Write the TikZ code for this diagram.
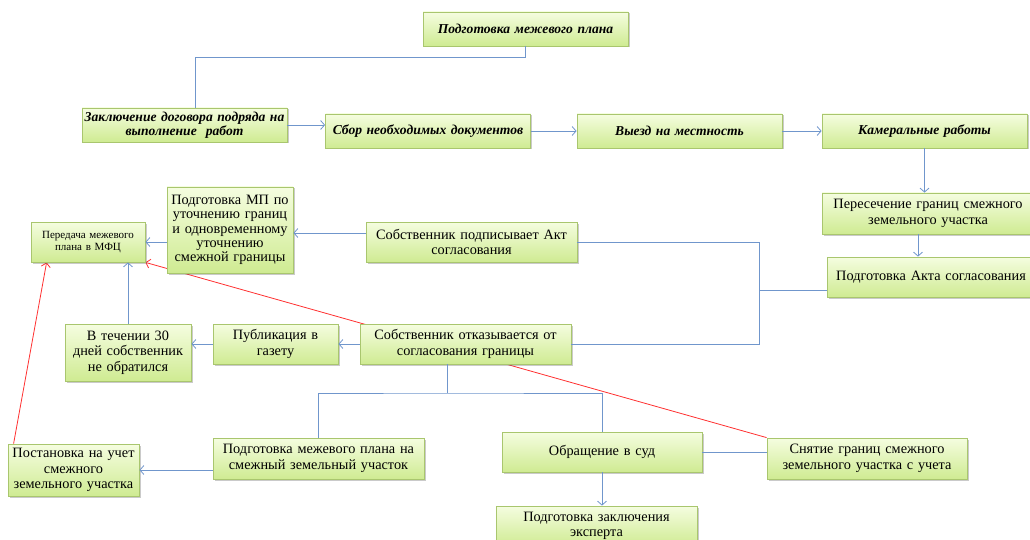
\documentclass[tikz,border=0pt]{standalone}
\usepackage{fontspec}
\setmainfont{Liberation Serif}
\usetikzlibrary{arrows.meta,shadows,backgrounds}
\definecolor{boxtop}{HTML}{F5FDE0}
\definecolor{boxbottom}{HTML}{CFEB92}
\definecolor{boxline}{HTML}{A9C66E}
\definecolor{linkblue}{HTML}{7096CC}
\definecolor{linkred}{HTML}{FF3030}

\begin{document}
\begin{tikzpicture}[x=1pt, y=-1pt, >={Straight Barb[length=4pt,width=9pt]}, box_node/.style={draw=boxline, line width=0.8pt, top color=boxtop, bottom color=boxbottom, drop shadow={shadow xshift=1.5pt,shadow yshift=-1.5pt,opacity=0.35,fill=black!60}, align=center, inner xsep=3pt, inner ysep=1pt, font=\fontsize{14.3}{15.5}\selectfont}, main_node/.style={box_node, font=\fontsize{13.6}{14.5}\selectfont\bfseries\itshape, inner xsep=0pt, text width=205pt, minimum height=34pt}, conn_line/.style={linkblue, line width=0.8pt}, red_line/.style={linkred, line width=0.8pt}]
				\useasboundingbox (0,0) rectangle (1030,540);
				\clip (0,0) rectangle (1030,540);
				\node[main_node] (plan) at (525.5,29) {Подготовка межевого плана};
				\node[main_node] (contract) at (184.5,125) {Заключение договора подряда на\\ выполнение\ \ работ};
				\node[main_node] (docs) at (428,131) {Сбор необходимых документов};
				\node[main_node] (field) at (679.5,131) {Выезд на местность};
				\node[main_node] (office) at (924.5,131) {Камеральные работы};
				\node[box_node, text width=206pt, minimum height=41pt] (cross) at (928,213.5) {Пересечение границ смежного\\ земельного участка};
				\node[box_node, text width=202pt, minimum height=40pt] (act) at (931,277) {Подготовка Акта согласования};
				\node[box_node, text width=205pt, minimum height=40pt] (signs) at (471.5,242) {Собственник подписывает Акт\\ согласования};
				\node[box_node, text width=205pt, minimum height=40pt] (refuses) at (465.5,344) {Собственник отказывается от\\ согласования границы};
				\node[box_node, text width=120pt, minimum height=86pt, font=\fontsize{14.3}{14.3}\selectfont] (mp) at (230,230) {Подготовка МП по\\ уточнению границ\\ и одновременному\\ уточнению\\ смежной границы};
				\node[box_node, text width=108pt, minimum height=40pt, font=\fontsize{11}{11.5}\selectfont] (mfc) at (88,242) {Передача межевого\\ плана в МФЦ};
				\node[box_node, text width=119pt, minimum height=40pt] (publ) at (275.5,344) {Публикация в\\ газету};
				\node[box_node, text width=120pt, minimum height=57pt] (days) at (128,352.5) {В течении 30\\ дней собственник\\ не обратился};
				\node[box_node, text width=125pt, minimum height=52pt] (register) at (73.5,470) {Постановка на учет\\ смежного\\ земельного участка};
				\node[box_node, text width=205pt, minimum height=41pt] (adjplan) at (318.5,458.5) {Подготовка межевого плана на\\ смежный земельный участок};
				\node[box_node, text width=194pt, minimum height=40pt] (court) at (602,452) {Обращение в суд};
				\node[box_node, text width=194pt, minimum height=41pt] (remove) at (867,458.5) {Снятие границ смежного\\ земельного участка с учета};
				\node[box_node, text width=195pt, minimum height=40pt] (expert) at (596.5,526) {Подготовка заключения\\ эксперта};
				\coordinate (act_split) at (759,290);
				\coordinate (refuse_split) at (447,393);
				\begin{scope}[on background layer]
				\draw[red_line, ->] (remove.north west) -- (mfc.south east);
				\draw[red_line, ->] ([xshift=6pt]register.north west) -- ([xshift=16pt]mfc.south west);
				\end{scope}
				\draw[conn_line] (plan.south) -- ++(0,11) -| ([xshift=10.5pt]contract.north);
				\draw[conn_line, ->] (contract.east) -- (contract.east -| docs.west);
				\draw[conn_line, ->] (docs.east) -- (field.west);
				\draw[conn_line, ->] (field.east) -- (office.west);
				\draw[conn_line, ->] (office.south) -- (office.south |- cross.north);
				\draw[conn_line, ->] ([xshift=-10pt]cross.south) -- ([xshift=-10pt]cross.south |- act.north);
				\draw[conn_line] (signs.east) -| (act_split) |- (refuses.east);
				\draw[conn_line] (act_split) -- (act_split -| act.west);
				\draw[conn_line, ->] ([yshift=9pt]signs.west) -- ([yshift=9pt]signs.west -| mp.east);
				\draw[conn_line, ->] (mp.west |- mfc.east) -- (mfc.east);
				\draw[conn_line, ->] (refuses.west) -- (publ.east);
				\draw[conn_line, ->] (publ.west) -- (publ.west -| days.east);
				\draw[conn_line, ->] (days.north) -- (days.north |- mfc.south);
				\draw[conn_line] ([xshift=-18.5pt]refuses.south) -- (refuse_split);
				\draw[conn_line] (adjplan.north) |- (refuse_split) -| (court.north);
				\draw[conn_line, ->] (adjplan.west |- register.east) -- (register.east);
				\draw[conn_line] (court.east) -- (court.east -| remove.west);
				\draw[conn_line, ->] (court.south) -- (court.south |- expert.north);
			\end{tikzpicture}
\end{document}
